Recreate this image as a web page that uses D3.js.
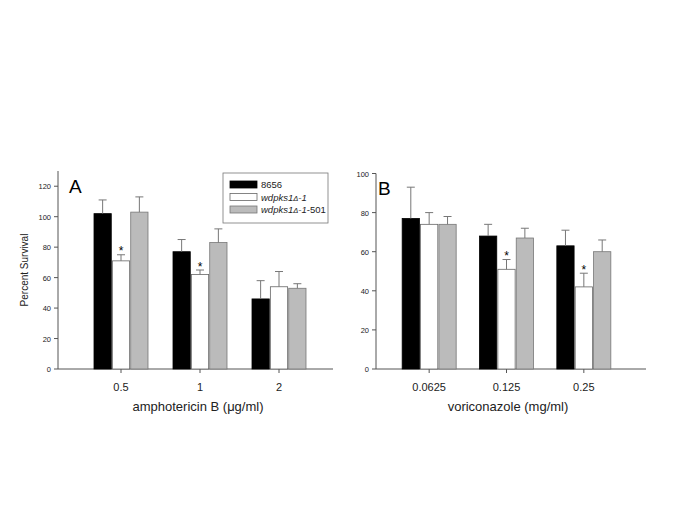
<!DOCTYPE html>
<html>
<head>
<meta charset="utf-8">
<script src="https://cdn.jsdelivr.net/npm/d3@7"></script>
<style>
  body { margin: 0; background: #fff; }
  text { font-family: Arial, "Liberation Sans", sans-serif; fill: #222; }
</style>
</head>
<body>
<div id="chart"></div>
<script>
'use strict'
/* Datos panel A */
var catsA = ['0.5', '1', '2'];
var meanA_wt = [102, 77, 46];
var errA_wt = [9, 8, 12];
var meanA_mut = [71, 62, 54];
var errA_mut = [4, 3, 10];
var meanA_rec = [103, 83, 53];
var errA_rec = [10, 9, 3];
var starA = [true, true, false];
var ticksA = [0, 20, 40, 60, 80, 100, 120];

/* Datos panel B */
var catsB = ['0.0625', '0.125', '0.25'];
var meanB_wt = [77, 68, 63];
var errB_wt = [16, 6, 8];
var meanB_mut = [74, 51, 42];
var errB_mut = [6, 5, 7];
var meanB_rec = [74, 67, 60];
var errB_rec = [4, 5, 6];
var starB = [false, true, true];
var ticksB = [0, 20, 40, 60, 80, 100];

var seriesNames = ['8656', 'wdpks1Δ-1', 'wdpks1Δ-1-501'];
var fills = ['#000', '#fff', '#bbb'];
var strokes = ['#000', '#666', '#777'];

var W = 685, H = 513;
var svg = d3.select('#chart').append('svg').attr('width', W).attr('height', H);

function panel(cfg){
	var g = svg.append('g');
	var y = d3.scaleLinear().domain([0, cfg.ymax]).range([369, cfg.ytop]);
	var x = d3.scaleBand().domain(cfg.cats).range([cfg.x0 + cfg.padL, cfg.x1 - cfg.padR]);
	var sub = d3.scaleBand().domain([0, 1, 2]).range([-27, 27]).paddingInner(0.06);

	// eje y
	g.append('line').attr('x1', cfg.x0).attr('x2', cfg.x0)
	 .attr('y1', y(0)).attr('y2', y(cfg.ymax)).attr('stroke', '#555');
	g.selectAll('.yt').data(cfg.ticks).enter().append('line')
	 .attr('x1', cfg.x0 - 4).attr('x2', cfg.x0)
	 .attr('y1', d => y(d)).attr('y2', d => y(d)).attr('stroke', '#555');
	g.selectAll('.yl').data(cfg.ticks).enter().append('text')
	 .attr('x', cfg.x0 - 7).attr('y', d => y(d) + 3)
	 .attr('text-anchor', 'end').style('font-size', '7.5px').text(d => d);

	// eje x
	g.append('line').attr('x1', cfg.x0).attr('x2', cfg.x1)
	 .attr('y1', y(0)).attr('y2', y(0)).attr('stroke', '#555');
	g.selectAll('.xt').data(cfg.cats).enter().append('line')
	 .attr('x1', d => x(d) + x.bandwidth()/2).attr('x2', d => x(d) + x.bandwidth()/2)
	 .attr('y1', y(0)).attr('y2', y(0) + 4).attr('stroke', '#555');
	g.selectAll('.xl').data(cfg.cats).enter().append('text')
	 .attr('x', d => x(d) + x.bandwidth()/2).attr('y', 391)
	 .attr('text-anchor', 'middle').style('font-size', '11px').text(d => d);

	// barras
	cfg.series.forEach((s, si) => {
		var grp = g.append('g');
		grp.selectAll('rect').data(s.mean).enter().append('rect')
		   .attr('x', (d, i) => x(cfg.cats[i]) + x.bandwidth()/2 + sub(si))
		   .attr('y', d => y(d))
		   .attr('width', sub.bandwidth())
		   .attr('height', d => y(0) - y(d))
		   .attr('fill', fills[si]).attr('stroke', strokes[si]).attr('stroke-width', 0.8);
		// barras de error (solo hacia arriba)
		s.mean.forEach((m, i) => {
			var cx = x(cfg.cats[i]) + x.bandwidth()/2 + sub(si) + sub.bandwidth()/2;
			grp.append('line').attr('x1', cx).attr('x2', cx)
			   .attr('y1', y(m)).attr('y2', y(m + s.err[i])).attr('stroke', '#777');
			grp.append('line').attr('x1', cx - 4).attr('x2', cx + 4)
			   .attr('y1', y(m + s.err[i])).attr('y2', y(m + s.err[i])).attr('stroke', '#777');
		});
	});

	// asteriscos
	cfg.star.forEach((st, i) => {
		if(!st) return;
		var m = cfg.series[1].mean[i] + cfg.series[1].err[i];
		var cx = x(cfg.cats[i]) + x.bandwidth()/2 + sub(1) + sub.bandwidth()/2;
		g.append('text').attr('x', cx).attr('y', y(m) + 0.5)
		 .attr('text-anchor', 'middle').style('font-size', '12px').style('fill', '#000').text('*');
	});

	// titulos
	g.append('text').attr('x', cfg.titleX).attr('y', 411)
	 .attr('text-anchor', 'middle').style('font-size', '13px').text(cfg.title);
	g.append('text').attr('x', cfg.letterX).attr('y', cfg.letterY)
	 .style('font-size', '19px').style('fill', '#000').text(cfg.letter);
}

panel({
	cats: catsA, ymax: 130, ytop: 171, x0: 58, x1: 333, padL: 23.5, padR: 14.5,
	ticks: ticksA, star: starA, title: 'amphotericin B (μg/ml)', titleX: 198,
	letter: 'A', letterX: 69, letterY: 193,
	series: [{mean: meanA_wt, err: errA_wt}, {mean: meanA_mut, err: errA_mut}, {mean: meanA_rec, err: errA_rec}]
});
panel({
	cats: catsB, ymax: 100, ytop: 173.5, x0: 376, x1: 646, padL: 14.5, padR: 23.5,
	ticks: ticksB, star: starB, title: 'voriconazole (mg/ml)', titleX: 508,
	letter: 'B', letterX: 378, letterY: 195,
	series: [{mean: meanB_wt, err: errB_wt}, {mean: meanB_mut, err: errB_mut}, {mean: meanB_rec, err: errB_rec}]
});

// titulo eje y
svg.append('text').attr('transform', 'translate(28,270) rotate(-90)')
   .attr('text-anchor', 'middle').style('font-size', '10px').text('Percent Survival');

// leyenda
var leg = svg.append('g').attr('transform', 'translate(223,173)');
leg.append('rect').attr('width', 105).attr('height', 50)
   .attr('fill', '#fff').attr('stroke', '#777').attr('stroke-width', 0.8);
var rows = leg.selectAll('.row').data(seriesNames).enter().append('g')
   .attr('transform', (d, i) => 'translate(7,' + (8 + i * 12.5) + ')');
rows.append('rect').attr('width', 27).attr('height', 7)
   .attr('fill', (d, i) => fills[i]).attr('stroke', (d, i) => strokes[i]).attr('stroke-width', 0.8);
var lt = rows.append('text').attr('x', 31).attr('y', 7).style('font-size', '9.5px');
lt.each(function(d, i){
	var t = d3.select(this);
	if(i === 0){ t.text(d); return; }
	t.append('tspan').style('font-style', 'italic').text('wdpks1');
	t.append('tspan').style('font-style', 'italic').style('font-size', '7.5px').text('Δ');
	t.append('tspan').style('font-style', 'italic').text('-1');
	if(i === 2) t.append('tspan').text('-501');
});
</script>
</body>
</html>
